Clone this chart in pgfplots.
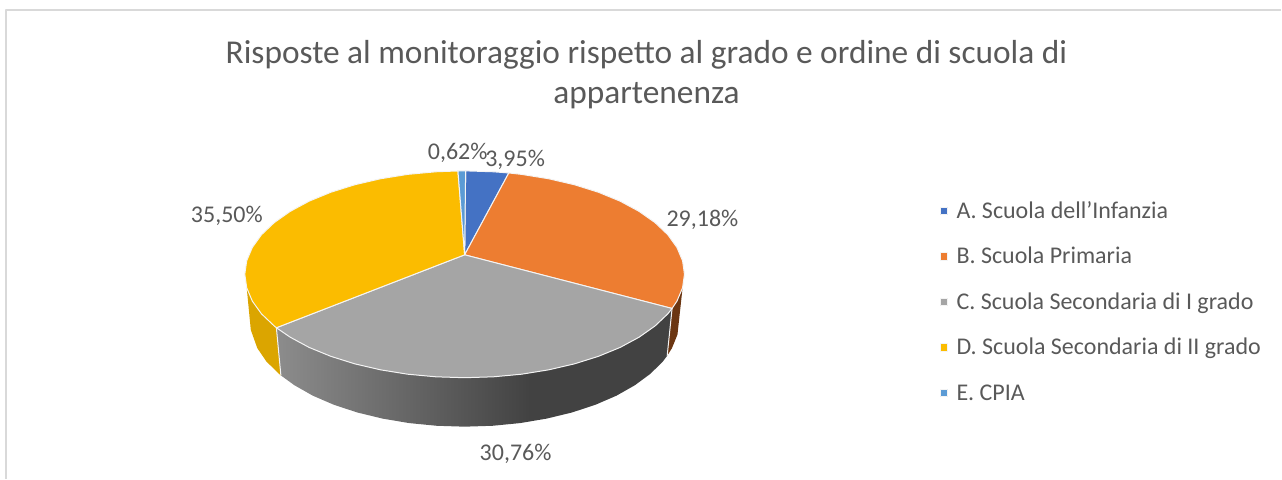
\documentclass[border=0pt]{standalone}
\usepackage{pgfplots}
\pgfplotsset{compat=1.18}
\usepackage{fontspec}
\setmainfont{Carlito}
\definecolor{txt}{HTML}{595959}
\definecolor{sA}{HTML}{4472C4}
\definecolor{sB}{HTML}{ED7D31}
\definecolor{sC}{HTML}{A5A5A5}
\definecolor{sD}{HTML}{FBBC00}
\definecolor{sE}{HTML}{5B9BD5}
\definecolor{sBd}{HTML}{6B3612}
\definecolor{sDd}{HTML}{DBA500}
\definecolor{frameC}{HTML}{D9D9D9}
\definecolor{rimC}{HTML}{F4F4F4}
\newcommand{\lgs}{\rule[-4.5pt]{0pt}{17pt}}
\pgfdeclarehorizontalshading{greyside}{100bp}{color(0bp)=(black!45!white);color(25bp)=(black!45!white);color(57bp)=(black!74);color(75bp)=(black!74);color(100bp)=(black!74)}
\begin{document}
\begin{tikzpicture}
\begin{axis}[
  scale only axis, width=961.5pt, height=359.25pt,
  xmin=0, xmax=1282, ymin=0, ymax=479, y dir=reverse,
  axis lines=none, clip=false,
  legend style={at={(axis cs:940,201.5)}, anchor=north west, draw=none, fill=none,
    font=\fontsize{18pt}{21pt}\selectfont\color{txt}, row sep=20.1pt, inner sep=0pt,
    cells={anchor=west}, nodes={inner sep=0pt}},
  legend image code/.code={\fill[#1] (0pt,-2.9pt) rectangle (5.75pt,2.9pt); \path (12pt,0pt);},
  legend cell align=left,
  every axis plot/.append style={line join=round},
]
% picture extent
\addplot[draw=none, forget plot] coordinates {(0,0) (1282,479)};
% chart frame
\addplot[frameC, line width=1.5pt, forget plot] coordinates {(6.3,479) (6.3,10.3) (1282,10.3)};
% pie sides
\addplot[draw=none, fill=sBd, forget plot] coordinates {
 (672.6,308.7) (677.5,301.3) (683.1,288) (678,334.8) (672.5,348.4) (667.7,356)} -- cycle;
\addplot[draw=none, fill=sDd, forget plot] coordinates {
 (276.6,328) (274.5,326.25) (261.7,314.1) (252.5,301.3) (246.9,288)
 (251,330.2) (257.5,348.4) (266.5,361.6) (279,374) (281.1,375.7)} -- cycle;
\addplot[draw=none, shading=greyside, forget plot] coordinates {
 (672.6,308.7) (668.3,314.1) (655.5,326.25) (639.5,337.5) (620.6,347.7) (598.9,356.6)
 (575,364.1) (549.2,370.1) (521.9,374.5) (493.7,377.1) (465,378) (436.3,377.1)
 (408.1,374.5) (380.8,370.1) (355,364.1) (331.1,356.6) (309.4,347.7) (290.5,337.5) (276.6,328)
 (281.1,375.7) (294.6,385.5) (313.1,396) (334.2,405.1) (357.6,412.8) (382.8,418.9)
 (409.4,423.4) (437,426.1) (465,427) (493,426.1) (520.6,423.4) (547.2,418.9) (572.4,412.8)
 (595.8,405.1) (616.9,396) (635.4,385.5) (651,374) (663.5,361.6) (667.7,356)} -- cycle;
\addplot[rimC, line width=0.75pt, forget plot] coordinates {(276.6,328) (281.1,375.7)};
\addplot[rimC, line width=0.75pt, forget plot] coordinates {(672.6,308.7) (667.7,356)};
% pie top
\addplot[draw=rimC, line width=0.75pt, fill=sA] coordinates {
 (465,255) (466,171) (493.7,171.9) (509.2,173.1)} -- cycle;
\addlegendentry{\lgs A. Scuola dell’Infanzia}
\addplot[draw=rimC, line width=0.75pt, fill=sB] coordinates {
 (465,255) (509.2,173.1) (521.9,174.5) (549.2,178.9) (575,184.9) (598.9,192.4) (620.6,201.3)
 (639.5,211.5) (655.5,222.75) (668.3,234.9) (677.5,247.7) (683.1,261) (685,274.5)
 (683.1,288) (677.5,301.3) (672.6,308.7)} -- cycle;
\addlegendentry{\lgs B. Scuola Primaria}
\addplot[draw=rimC, line width=0.75pt, fill=sC] coordinates {
 (465,255) (672.6,308.7) (668.3,314.1) (655.5,326.25) (639.5,337.5) (620.6,347.7) (598.9,356.6)
 (575,364.1) (549.2,370.1) (521.9,374.5) (493.7,377.1) (465,378) (436.3,377.1)
 (408.1,374.5) (380.8,370.1) (355,364.1) (331.1,356.6) (309.4,347.7) (290.5,337.5) (276.6,328)} -- cycle;
\addlegendentry{\lgs C. Scuola Secondaria di I grado}
\addplot[draw=rimC, line width=0.75pt, fill=sD] coordinates {
 (465,255) (276.6,328) (274.5,326.25) (261.7,314.1) (252.5,301.3) (246.9,288) (245,274.5)
 (246.9,261) (252.5,247.7) (261.7,234.9) (274.5,222.75) (290.5,211.5) (309.4,201.3)
 (331.1,192.4) (355,184.9) (380.8,178.9) (408.1,174.5) (436.3,171.9) (458.3,171.1)} -- cycle;
\addlegendentry{\lgs D. Scuola Secondaria di II grado}
\addplot[draw=rimC, line width=0.75pt, fill=sE] coordinates {
 (465,255) (458.3,171.1) (466,171)} -- cycle;
\addlegendentry{\lgs E. CPIA}
% title
\node[txt, font=\fontsize{25.03pt}{30pt}\selectfont] at (axis cs:647,55) {Risposte al monitoraggio rispetto al grado e ordine di scuola di};
\node[txt, font=\fontsize{25.03pt}{30pt}\selectfont] at (axis cs:647,96) {appartenenza};
% data labels
\begin{scope}[every node/.style={txt, font=\fontsize{18pt}{21pt}\selectfont}]
\node at (axis cs:458,153) {0,62\%};
\node at (axis cs:515.5,160) {3,95\%};
\node at (axis cs:703,220) {29,18\%};
\node at (axis cs:227,216) {35,50\%};
\node at (axis cs:516,454) {30,76\%};
\end{scope}
\end{axis}
\end{tikzpicture}
\end{document}
